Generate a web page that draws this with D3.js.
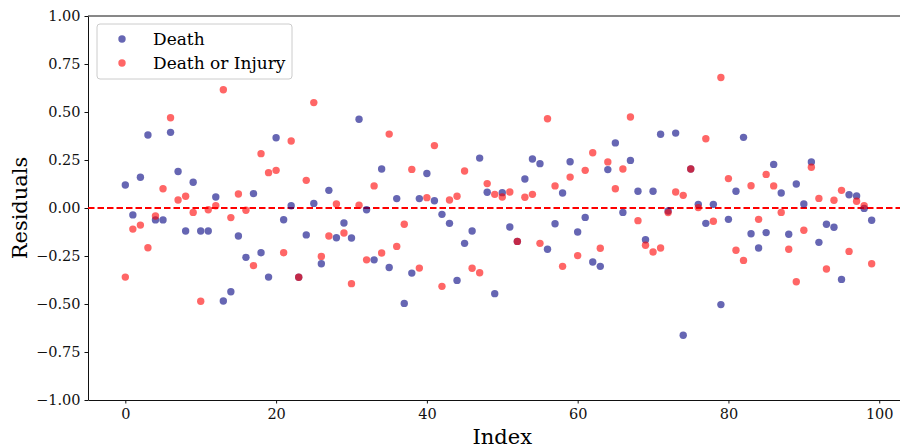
<!DOCTYPE html>
<html>
<head>
<meta charset="utf-8">
<script src="https://cdn.jsdelivr.net/npm/d3@7"></script>
<style>
  body { margin: 0; background: #fff; }
  text { font-family: "DejaVu Serif", serif; }
</style>
</head>
<body>
<div id="canvas"></div>
<script>
// residuals, one value per index 0..99
const death = [
  0.12, -0.036, 0.16, 0.38, -0.062, -0.062, 0.394, 0.19, -0.12, 0.134,
  -0.12, -0.12, 0.057, -0.484, -0.436, -0.146, -0.257, 0.075, -0.233, -0.36,
  0.366, -0.061, 0.012, -0.361, -0.14, 0.024, -0.29, 0.092, -0.155, -0.078,
  -0.156, 0.462, -0.009, -0.27, 0.203, -0.31, 0.049, -0.497, -0.339, 0.049,
  0.18, 0.038, -0.033, -0.08, -0.377, -0.184, -0.12, 0.26, 0.082, -0.446,
  0.08, -0.099, -0.174, 0.151, 0.255, 0.231, -0.215, -0.082, 0.078, 0.241,
  -0.125, -0.049, -0.281, -0.304, 0.2, 0.339, -0.023, 0.248, 0.087, -0.165,
  0.087, 0.384, -0.016, 0.39, -0.663, 0.203, 0.019, -0.08, 0.019, -0.503,
  -0.059, 0.087, 0.368, -0.134, -0.208, -0.128, 0.227, 0.078, -0.137, 0.125,
  0.021, 0.24, -0.179, -0.085, -0.1, -0.372, 0.069, 0.063, -0.002, -0.064
];
const deathOrInjury = [
  -0.36, -0.11, -0.089, -0.207, -0.042, 0.10, 0.47, 0.042, 0.061, -0.023,
  -0.486, -0.009, 0.012, 0.616, -0.05, 0.073, -0.012, -0.30, 0.283, 0.184,
  0.196, -0.233, 0.349, -0.361, 0.144, 0.549, -0.252, -0.146, 0.021, -0.13,
  -0.394, 0.014, -0.27, 0.115, -0.234, 0.385, -0.20, -0.085, 0.201, -0.313,
  0.054, 0.325, -0.408, 0.042, 0.061, 0.193, -0.314, -0.337, 0.127, 0.071,
  0.057, 0.083, -0.174, 0.056, 0.071, -0.184, 0.465, 0.115, -0.304, 0.161,
  -0.248, 0.196, 0.288, -0.21, 0.24, 0.10, 0.203, 0.474, -0.066, -0.194,
  -0.229, -0.208, -0.024, 0.083, 0.066, 0.203, 0.002, 0.361, -0.069, 0.68,
  0.153, -0.22, -0.273, 0.116, -0.059, 0.175, 0.115, -0.023, -0.215, -0.384,
  -0.116, 0.212, 0.05, -0.318, 0.04, 0.092, -0.226, 0.035, 0.012, -0.29
];
const seriesNames = ["Death", "Death or Injury"];
const seriesColors = ["navy", "red"];
const xTicks = [0, 20, 40, 60, 80, 100];
const yTicks = [-1, -0.75, -0.5, -0.25, 0, 0.25, 0.5, 0.75, 1];

const width = 900;
const height = 448;
const margin = { top: 16, left: 88, bottom: 48, right: -9 };
const iwidth = width - margin.left - margin.right;
const iheight = height - margin.top - margin.bottom;

const svg = d3.select("#canvas").append("svg")
  .attr("width", width)
  .attr("height", height);

const g = svg.append("g").attr("transform", `translate(${margin.left},${margin.top})`);

const x = d3.scaleLinear().domain([-4.95, 103.95]).range([0, iwidth]);
const y = d3.scaleLinear().domain([-1, 1]).range([iheight, 0]);

const fmt = d => d3.format(".2f")(d).replace("-", "\u2212");

// axes
const xAxis = g.append("g")
  .attr("transform", `translate(0,${iheight})`)
  .call(d3.axisBottom(x).tickValues(xTicks).tickSize(3.5).tickPadding(5).tickSizeOuter(0));
const yAxis = g.append("g")
  .call(d3.axisLeft(y).tickValues(yTicks).tickFormat(fmt).tickSize(3.5).tickPadding(4).tickSizeOuter(0));
[xAxis, yAxis].forEach(a => {
  a.selectAll("text").style("font-size", "14.5px").attr("fill", "#111");
  a.selectAll("line").attr("stroke", "#111");
  a.select(".domain").attr("stroke", "#111");
});

// top and right spines
g.append("line")
  .attr("x1", 0).attr("x2", iwidth)
  .attr("y1", 0).attr("y2", 0)
  .attr("stroke", "#111");
g.append("line")
  .attr("x1", iwidth).attr("x2", iwidth)
  .attr("y1", 0).attr("y2", iheight)
  .attr("stroke", "#111");

// zero line
g.append("line")
  .attr("x1", 0).attr("x2", iwidth)
  .attr("y1", y(0)).attr("y2", y(0))
  .attr("stroke", "red")
  .attr("stroke-width", 1.8)
  .attr("stroke-dasharray", "6.5,3");

// points, Death first so the red ones sit on top
[death, deathOrInjury].forEach((vals, k) => {
  g.append("g").selectAll("circle").data(vals).enter().append("circle")
    .attr("cx", (d, i) => x(i))
    .attr("cy", d => y(d))
    .attr("r", 3.7)
    .attr("fill", seriesColors[k])
    .attr("fill-opacity", 0.6);
});

// labels
svg.append("text")
  .attr("x", margin.left + x(50)).attr("y", 444)
  .attr("text-anchor", "middle")
  .style("font-size", "21px")
  .text("Index");
svg.append("text")
  .attr("transform", `translate(27,${margin.top + y(0)}) rotate(-90)`)
  .attr("text-anchor", "middle")
  .style("font-size", "21px")
  .text("Residuals");

// legend
const leg = svg.append("g").attr("transform", "translate(97,24)");
leg.append("rect")
  .attr("width", 195).attr("height", 55)
  .attr("rx", 3)
  .attr("fill", "white").attr("fill-opacity", 0.8)
  .attr("stroke", "#ccc");
seriesNames.forEach((name, k) => {
  leg.append("circle")
    .attr("cx", 25).attr("cy", 15 + k * 24)
    .attr("r", 3.7)
    .attr("fill", seriesColors[k]).attr("fill-opacity", 0.6);
  leg.append("text")
    .attr("x", 56).attr("y", 15 + k * 24)
    .attr("dy", "0.35em")
    .style("font-size", "17px")
    .text(name);
});
</script>
</body>
</html>
